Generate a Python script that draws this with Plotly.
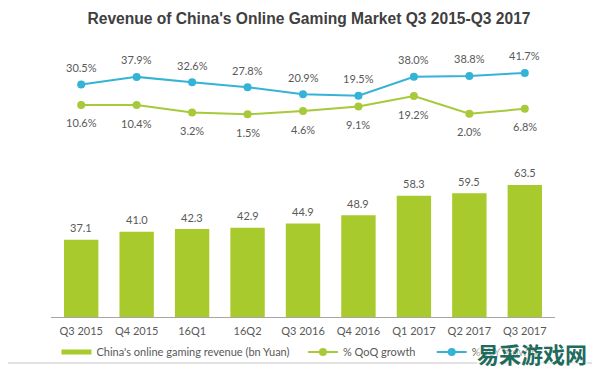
import plotly.graph_objects as go

categories = ["Q3 2015", "Q4 2015", "16Q1", "16Q2", "Q3 2016", "Q4 2016", "Q1 2017", "Q2 2017", "Q3 2017"]
revenue = [37.1, 41.0, 42.3, 42.9, 44.9, 48.9, 58.3, 59.5, 63.5]
qoq = [10.6, 10.4, 3.2, 1.5, 4.6, 9.1, 19.2, 2.0, 6.8]
yoy = [30.5, 37.9, 32.6, 27.8, 20.9, 19.5, 38.0, 38.8, 41.7]

BAR = "#a9ca2c"
GREEN = "#a8c93a"
BLUE = "#35b3d6"
TXT = "#595959"
FONT = "Lato"
NB = "\u00a0"

fig = go.Figure()
fig.add_trace(go.Bar(
    x=categories, y=revenue, marker=dict(color=BAR, line=dict(width=0)),
    showlegend=False, name="China's online gaming revenue (bn Yuan)"))
fig.add_trace(go.Scatter(
    x=[None], y=[None], mode="lines", line=dict(color=BAR, width=5),
    name="China's online gaming revenue (bn Yuan)" + NB * 3))
fig.add_trace(go.Scatter(
    x=categories, y=qoq, yaxis="y2", mode="lines+markers",
    line=dict(color=GREEN, width=2), marker=dict(color=GREEN, size=8),
    cliponaxis=False, name="% QoQ growth" + NB * 4))
fig.add_trace(go.Scatter(
    x=categories, y=yoy, yaxis="y2", mode="lines+markers",
    line=dict(color=BLUE, width=2), marker=dict(color=BLUE, size=8),
    cliponaxis=False, name="% YoY growth"))

# page body has an 8px margin, so figure coords = screen coords - 8
OFF = 8
W, H = 592, 362
L, T, B = 42.5, 32, 53
pw = 505
R = W - L - pw
ph = H - T - B

def sx(p):
    return (p - OFF - L) / pw

def sy(p):
    return (H - B - (p - OFF)) / ph

lab_font = dict(size=11, color=TXT, family=FONT)
annotations = []
for c, v in zip(categories, revenue):
    annotations.append(dict(x=c, y=v, xref="x", yref="y", text=f"{v:.1f}", showarrow=False,
                            yanchor="middle", yshift=12, font=lab_font))
for c, v in zip(categories, yoy):
    annotations.append(dict(x=c, y=v, xref="x", yref="y2", text=f"{v:.1f}%", showarrow=False,
                            yanchor="middle", yshift=17, font=lab_font))
for c, v in zip(categories, qoq):
    annotations.append(dict(x=c, y=v, xref="x", yref="y2", text=f"{v:.1f}%", showarrow=False,
                            yanchor="middle", yshift=-18, font=lab_font))
annotations.append(dict(text="<b>易采游戏网</b>", xref="paper", yref="paper",
                        x=sx(532), y=sy(353), xanchor="center", yanchor="middle",
                        showarrow=False, bgcolor="rgba(255,255,255,0.5)", borderpad=0,
                        font=dict(family="Noto Sans CJK SC", size=22, color="#1f6b5c")))

zero_y2 = 115.8 - OFF - T  # px from plot top to 0 %
fig.update_layout(
    width=W, height=H,
    margin=dict(l=L, r=R, t=T, b=B, autoexpand=False),
    paper_bgcolor="white", plot_bgcolor="white",
    font=dict(family=FONT, color=TXT, size=11),
    title=dict(text="<b>Revenue of China's Online Gaming Market Q3 2015-Q3 2017</b>",
               x=(309 - OFF) / W, xanchor="center", y=1 - 11 / H, yanchor="middle",
               font=dict(family="Liberation Sans", size=15.6, color="#404040")),
    bargap=0.38,
    xaxis=dict(showline=True, linecolor="#a6a6a6", linewidth=1, ticks="",
               tickfont=dict(size=11, color=TXT, family=FONT), ticklabelstandoff=4,
               showgrid=False, zeroline=False),
    yaxis=dict(range=[0, ph / 2.08], visible=False, showgrid=False, zeroline=False),
    yaxis2=dict(range=[-(ph - zero_y2) / 1.027, zero_y2 / 1.027], overlaying="y",
                visible=False, showgrid=False, zeroline=False),
    legend=dict(orientation="h", x=sx(56), xanchor="left", y=sy(352), yanchor="middle",
                font=dict(size=11, color=TXT, family=FONT), bgcolor="rgba(0,0,0,0)",
                itemwidth=30, tracegroupgap=0),
    shapes=[dict(type="rect", xref="paper", yref="paper",
                 x0=sx(3.5), x1=sx(595), y0=sy(363), y1=sy(3.5),
                 line=dict(color="#d9d9d9", width=1.5), layer="below")],
    annotations=annotations,
)

fig.write_html("out.html")
